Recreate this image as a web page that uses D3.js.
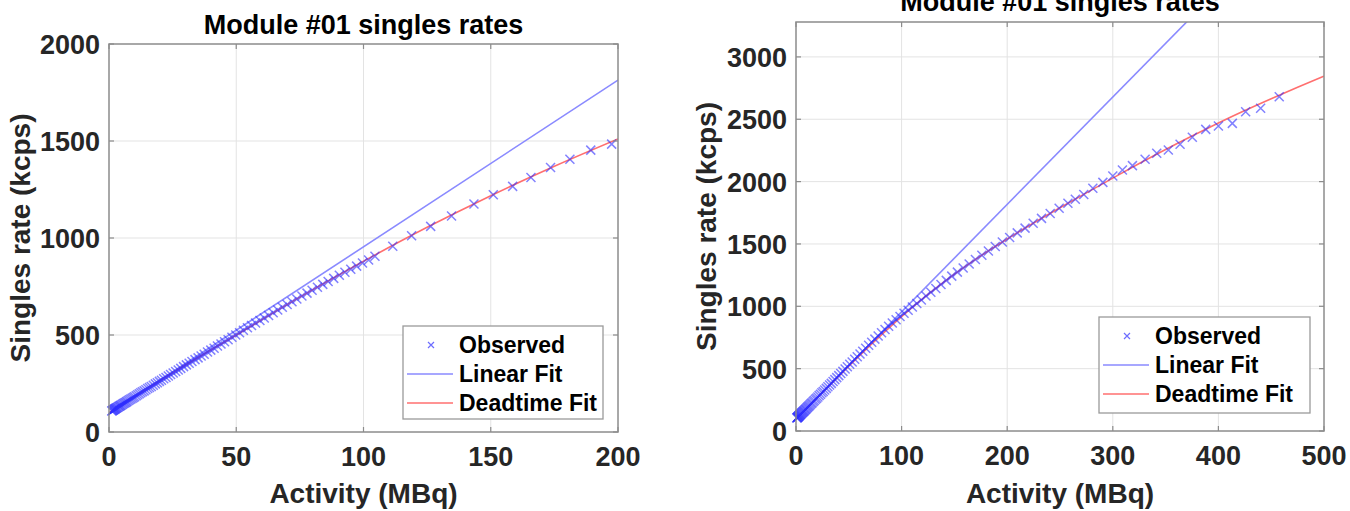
<!DOCTYPE html>
<html>
<head>
<meta charset="utf-8">
<script src="https://cdn.jsdelivr.net/npm/d3@7"></script>
<style>
  html, body { margin: 0; padding: 0; background: #fff; }
  svg { display: block; font-family: "Liberation Sans", Arial, Helvetica, sans-serif; }
</style>
</head>
<body>
<div id="chart"></div>
<script>
// ---- data ----
const titleText = "Module #01 singles rates";
const xLabel = "Activity (MBq)";
const yLabel = "Singles rate (kcps)";
const legendNames = ["Observed", "Linear Fit", "Deadtime Fit"];

// left panel (0-200 MBq)
const leftXTicks = [0, 50, 100, 150, 200];
const leftYTicks = [0, 500, 1000, 1500, 2000];
const leftObsActivity = [1.1, 1.3, 1.5, 1.7, 1.9, 2.1, 2.3, 2.5, 2.7, 2.9, 3.2, 3.5, 3.8, 4.1, 4.4, 4.7, 5.1, 5.5, 5.9, 6.3, 6.7, 7.1, 7.6, 8.1, 8.6, 9.1, 9.6, 10.1, 10.7, 11.3, 11.9, 12.5, 13.1, 13.8, 14.5, 15.2, 15.9, 16.6, 17.4, 18.2, 19, 19.8, 20.6, 21.5, 22.4, 23.3, 24.2, 25.2, 26.2, 27.2, 28.2, 29.3, 30.4, 31.5, 32.6, 33.8, 35, 36.2, 37.4, 38.7, 40, 41.3, 42.6, 44, 45.4, 46.8, 48.3, 49.8, 51.3, 52.8, 54.4, 56, 57.6, 59.3, 61, 62.7, 64.5, 66.3, 68.1, 70, 71.9, 73.8, 75.8, 77.8, 79.8, 81.9, 84, 86.1, 88.3, 90.5, 92.7, 95, 97.3, 99.6, 102, 104.5, 111.5, 118.9, 126.4, 134.6, 143.4, 151, 158.6, 165.8, 173.5, 181.1, 189.3, 197.5];
const leftObsRate = [108, 110, 112, 113, 115, 117, 119, 120, 122, 124, 126, 128, 131, 133, 136, 138, 141, 145, 148, 151, 154, 158, 162, 166, 170, 174, 178, 182, 187, 192, 197, 202, 207, 212, 218, 224, 229, 235, 241, 248, 254, 261, 267, 274, 281, 289, 296, 304, 312, 320, 328, 337, 346, 354, 363, 373, 382, 392, 401, 412, 422, 432, 443, 454, 465, 476, 488, 500, 512, 524, 537, 549, 562, 575, 588, 601, 615, 629, 643, 657, 671, 686, 701, 716, 731, 746, 761, 776, 792, 808, 823, 839, 855, 871, 887, 906, 957, 1012, 1060, 1113, 1175, 1223, 1266, 1312, 1363, 1406, 1453, 1484];
const leftLinActivity = [0, 200];
const leftLinRate = [95, 1814];
const leftDtActivity = [0, 25, 50, 75, 100, 125, 150, 175, 200];
const leftDtRate = [100, 305, 500, 695, 880, 1055, 1218, 1370, 1511];

// right panel (0-500 MBq)
const rightXTicks = [0, 100, 200, 300, 400, 500];
const rightYTicks = [0, 500, 1000, 1500, 2000, 2500, 3000];
const rightObsActivity = [0.8, 1, 1.3, 1.6, 1.9, 2.2, 2.5, 2.8, 3.1, 3.4, 3.8, 4.2, 4.6, 5, 5.5, 6, 6.5, 7, 7.5, 8, 8.6, 9.2, 9.8, 10.5, 11.2, 11.9, 12.7, 13.5, 14.4, 15.3, 16.3, 17.3, 18.4, 19.5, 20.7, 21.9, 23.2, 24.5, 25.8, 27.2, 28.7, 30.2, 31.8, 33.4, 35.1, 36.8, 38.6, 40.5, 42.4, 44.4, 46.5, 48.6, 50.9, 53.2, 55.6, 58, 60.6, 63.2, 66, 68.8, 71.7, 74.7, 77.8, 81, 84.3, 87.7, 91.2, 94.8, 98.5, 102.3, 106.2, 110.2, 114.4, 118.7, 123.1, 127.7, 132.4, 137.3, 142.3, 147.5, 152.8, 158.3, 164, 169.9, 176, 182.2, 188.7, 195.4, 202.3, 209.5, 216.9, 224.6, 232.5, 240.7, 249.2, 257.5, 264.5, 272.5, 281.1, 290.6, 300, 309.1, 318.6, 330.6, 341.6, 352.6, 363.7, 375.3, 388, 400, 413.2, 425.8, 440, 457.6];
const rightObsRate = [104, 106, 108, 111, 113, 116, 118, 121, 124, 126, 130, 133, 137, 140, 144, 149, 153, 157, 161, 165, 170, 175, 180, 186, 192, 198, 205, 212, 220, 227, 236, 244, 254, 263, 273, 284, 295, 306, 317, 329, 342, 355, 369, 382, 397, 412, 428, 444, 461, 478, 497, 515, 535, 554, 575, 596, 618, 640, 664, 688, 712, 737, 762, 788, 814, 840, 866, 892, 918, 944, 968, 994, 1022, 1050, 1082, 1113, 1143, 1175, 1208, 1242, 1274, 1307, 1340, 1375, 1410, 1444, 1479, 1515, 1552, 1589, 1627, 1666, 1705, 1745, 1786, 1826, 1859, 1897, 1946, 1994, 2045, 2093, 2128, 2179, 2227, 2253, 2299, 2355, 2419, 2446, 2467, 2561, 2588, 2681];
const rightLinActivity = [0, 500];
const rightLinRate = [95, 4400];
const rightDtActivity = [0, 25, 50, 75, 100, 125, 150, 175, 200, 225, 250, 275, 300, 325, 350, 375, 400, 425, 450, 475, 500];
const rightDtRate = [97, 310, 520, 725, 918, 1095, 1258, 1405, 1540, 1668, 1790, 1910, 2028, 2145, 2258, 2366, 2470, 2570, 2665, 2757, 2845];

// ---- drawing ----
const W = 1350, H = 511;
const svg = d3.select("#chart").append("svg")
  .attr("width", W)
  .attr("height", H);
svg.append("rect").attr("width", W).attr("height", H).attr("fill", "#fff");

const markerColor = "#2f2fff";
const linColor = "#8a8aff";
const dtColor = "#ff6f6f";

function drawPanel(p) {
  const x = d3.scaleLinear().domain(p.xDomain).range([p.left, p.right]);
  const y = d3.scaleLinear().domain(p.yDomain).range([p.bottom, p.top]);
  const g = svg.append("g");
  const clipId = "clip-" + p.id;

  g.append("clipPath").attr("id", clipId)
    .append("rect")
    .attr("x", p.left).attr("y", p.top)
    .attr("width", p.right - p.left).attr("height", p.bottom - p.top);

  // grid
  g.append("g").selectAll("line").data(p.xTicks.slice(1, -1)).join("line")
    .attr("x1", d => x(d)).attr("x2", d => x(d))
    .attr("y1", p.top).attr("y2", p.bottom)
    .attr("stroke", "#e3e3e3").attr("stroke-width", 1);
  g.append("g").selectAll("line").data(p.yTicks.filter(d => y(d) > p.top + 1 && d > 0)).join("line")
    .attr("x1", p.left).attr("x2", p.right)
    .attr("y1", d => y(d)).attr("y2", d => y(d))
    .attr("stroke", "#e3e3e3").attr("stroke-width", 1);

  // fits
  const lineGen = d3.line().x(d => x(d[0])).y(d => y(d[1]));
  const lin = d3.zip(p.linA, p.linR);
  const dt = d3.zip(p.dtA, p.dtR);
  g.append("path").datum(lin)
    .attr("clip-path", `url(#${clipId})`)
    .attr("d", lineGen)
    .attr("fill", "none").attr("stroke", linColor).attr("stroke-width", 1.6);
  g.append("path").datum(dt)
    .attr("clip-path", `url(#${clipId})`)
    .attr("d", lineGen.curve(d3.curveMonotoneX))
    .attr("fill", "none").attr("stroke", dtColor).attr("stroke-width", 1.6);

  // observed 'x' markers
  const s = 4.5;
  g.append("g").selectAll("path").data(d3.zip(p.obsA, p.obsR)).join("path")
    .attr("transform", d => `translate(${x(d[0])},${y(d[1])})`)
    .attr("d", `M${-s},${-s}L${s},${s}M${-s},${s}L${s},${-s}`)
    .attr("stroke", markerColor).attr("stroke-width", 1.5)
    .attr("stroke-opacity", 0.6).attr("fill", "none");

  // box
  g.append("rect")
    .attr("x", p.left).attr("y", p.top)
    .attr("width", p.right - p.left).attr("height", p.bottom - p.top)
    .attr("fill", "none").attr("stroke", "#8c8c8c").attr("stroke-width", 1.5);

  // inward ticks on all four sides
  const tl = 5;
  const tk = g.append("g").attr("stroke", "#8c8c8c").attr("stroke-width", 1.2);
  p.xTicks.forEach(d => {
    tk.append("line").attr("x1", x(d)).attr("x2", x(d)).attr("y1", p.bottom).attr("y2", p.bottom - tl);
    tk.append("line").attr("x1", x(d)).attr("x2", x(d)).attr("y1", p.top).attr("y2", p.top + tl);
  });
  p.yTicks.filter(d => y(d) >= p.top).forEach(d => {
    tk.append("line").attr("x1", p.left).attr("x2", p.left + tl).attr("y1", y(d)).attr("y2", y(d));
    tk.append("line").attr("x1", p.right).attr("x2", p.right - tl).attr("y1", y(d)).attr("y2", y(d));
  });

  // tick labels
  g.append("g").selectAll("text").data(p.xTicks).join("text")
    .attr("x", d => x(d)).attr("y", p.bottom + 34)
    .attr("text-anchor", "middle")
    .attr("font-size", 27).attr("font-weight", "bold").attr("fill", "#262626")
    .text(d => d);
  g.append("g").selectAll("text").data(p.yTicks).join("text")
    .attr("x", p.left - 9).attr("y", d => y(d) + 10)
    .attr("text-anchor", "end")
    .attr("font-size", 27).attr("font-weight", "bold").attr("fill", "#262626")
    .text(d => d);

  // axis labels + title
  const cx = (p.left + p.right) / 2;
  g.append("text").attr("x", cx).attr("y", 503)
    .attr("text-anchor", "middle").attr("font-size", 28).attr("font-weight", "bold").attr("fill", "#262626")
    .text(xLabel);
  g.append("text")
    .attr("transform", `translate(${p.yLabelX},${(p.top + p.bottom) / 2}) rotate(-90)`)
    .attr("text-anchor", "middle").attr("font-size", 28).attr("font-weight", "bold").attr("fill", "#262626")
    .text(yLabel);
  g.append("text").attr("x", cx).attr("y", p.titleY)
    .attr("text-anchor", "middle").attr("font-size", 27).attr("font-weight", "bold").attr("fill", "#000")
    .text(titleText);

  // legend
  const L = p.legend;
  const lg = g.append("g");
  lg.append("rect").attr("x", L.x).attr("y", L.y).attr("width", L.w).attr("height", L.h)
    .attr("fill", "#fff").attr("stroke", "#9a9a9a").attr("stroke-width", 1.3);
  const rowY = [L.y + 19, L.y + 48, L.y + 77];
  lg.append("path")
    .attr("transform", `translate(${L.x + 28},${rowY[0]})`)
    .attr("d", "M-3,-3L3,3M-3,3L3,-3")
    .attr("stroke", markerColor).attr("stroke-width", 1.2).attr("stroke-opacity", 0.7);
  lg.append("line").attr("x1", L.x + 4).attr("x2", L.x + 50).attr("y1", rowY[1]).attr("y2", rowY[1])
    .attr("stroke", linColor).attr("stroke-width", 1.6);
  lg.append("line").attr("x1", L.x + 4).attr("x2", L.x + 50).attr("y1", rowY[2]).attr("y2", rowY[2])
    .attr("stroke", dtColor).attr("stroke-width", 1.6);
  lg.selectAll("text.lt").data(legendNames).join("text")
    .attr("class", "lt")
    .attr("x", L.x + 56).attr("y", (d, i) => rowY[i] + 8)
    .attr("font-size", 23).attr("font-weight", "bold").attr("fill", "#000")
    .text(d => d);
}

drawPanel({
  id: "left",
  left: 109, right: 618, top: 44, bottom: 432,
  xDomain: [0, 200], yDomain: [0, 2000],
  xTicks: leftXTicks, yTicks: leftYTicks,
  obsA: leftObsActivity, obsR: leftObsRate,
  linA: leftLinActivity, linR: leftLinRate,
  dtA: leftDtActivity, dtR: leftDtRate,
  yLabelX: 30, titleY: 34,
  legend: { x: 403, y: 326, w: 200, h: 93 }
});

drawPanel({
  id: "right",
  left: 796, right: 1324, top: 22, bottom: 431,
  xDomain: [0, 500], yDomain: [0, 3280],
  xTicks: rightXTicks, yTicks: rightYTicks,
  obsA: rightObsActivity, obsR: rightObsRate,
  linA: rightLinActivity, linR: rightLinRate,
  dtA: rightDtActivity, dtR: rightDtRate,
  yLabelX: 716, titleY: 11,
  legend: { x: 1099, y: 317, w: 211, h: 96 }
});
</script>
</body>
</html>
